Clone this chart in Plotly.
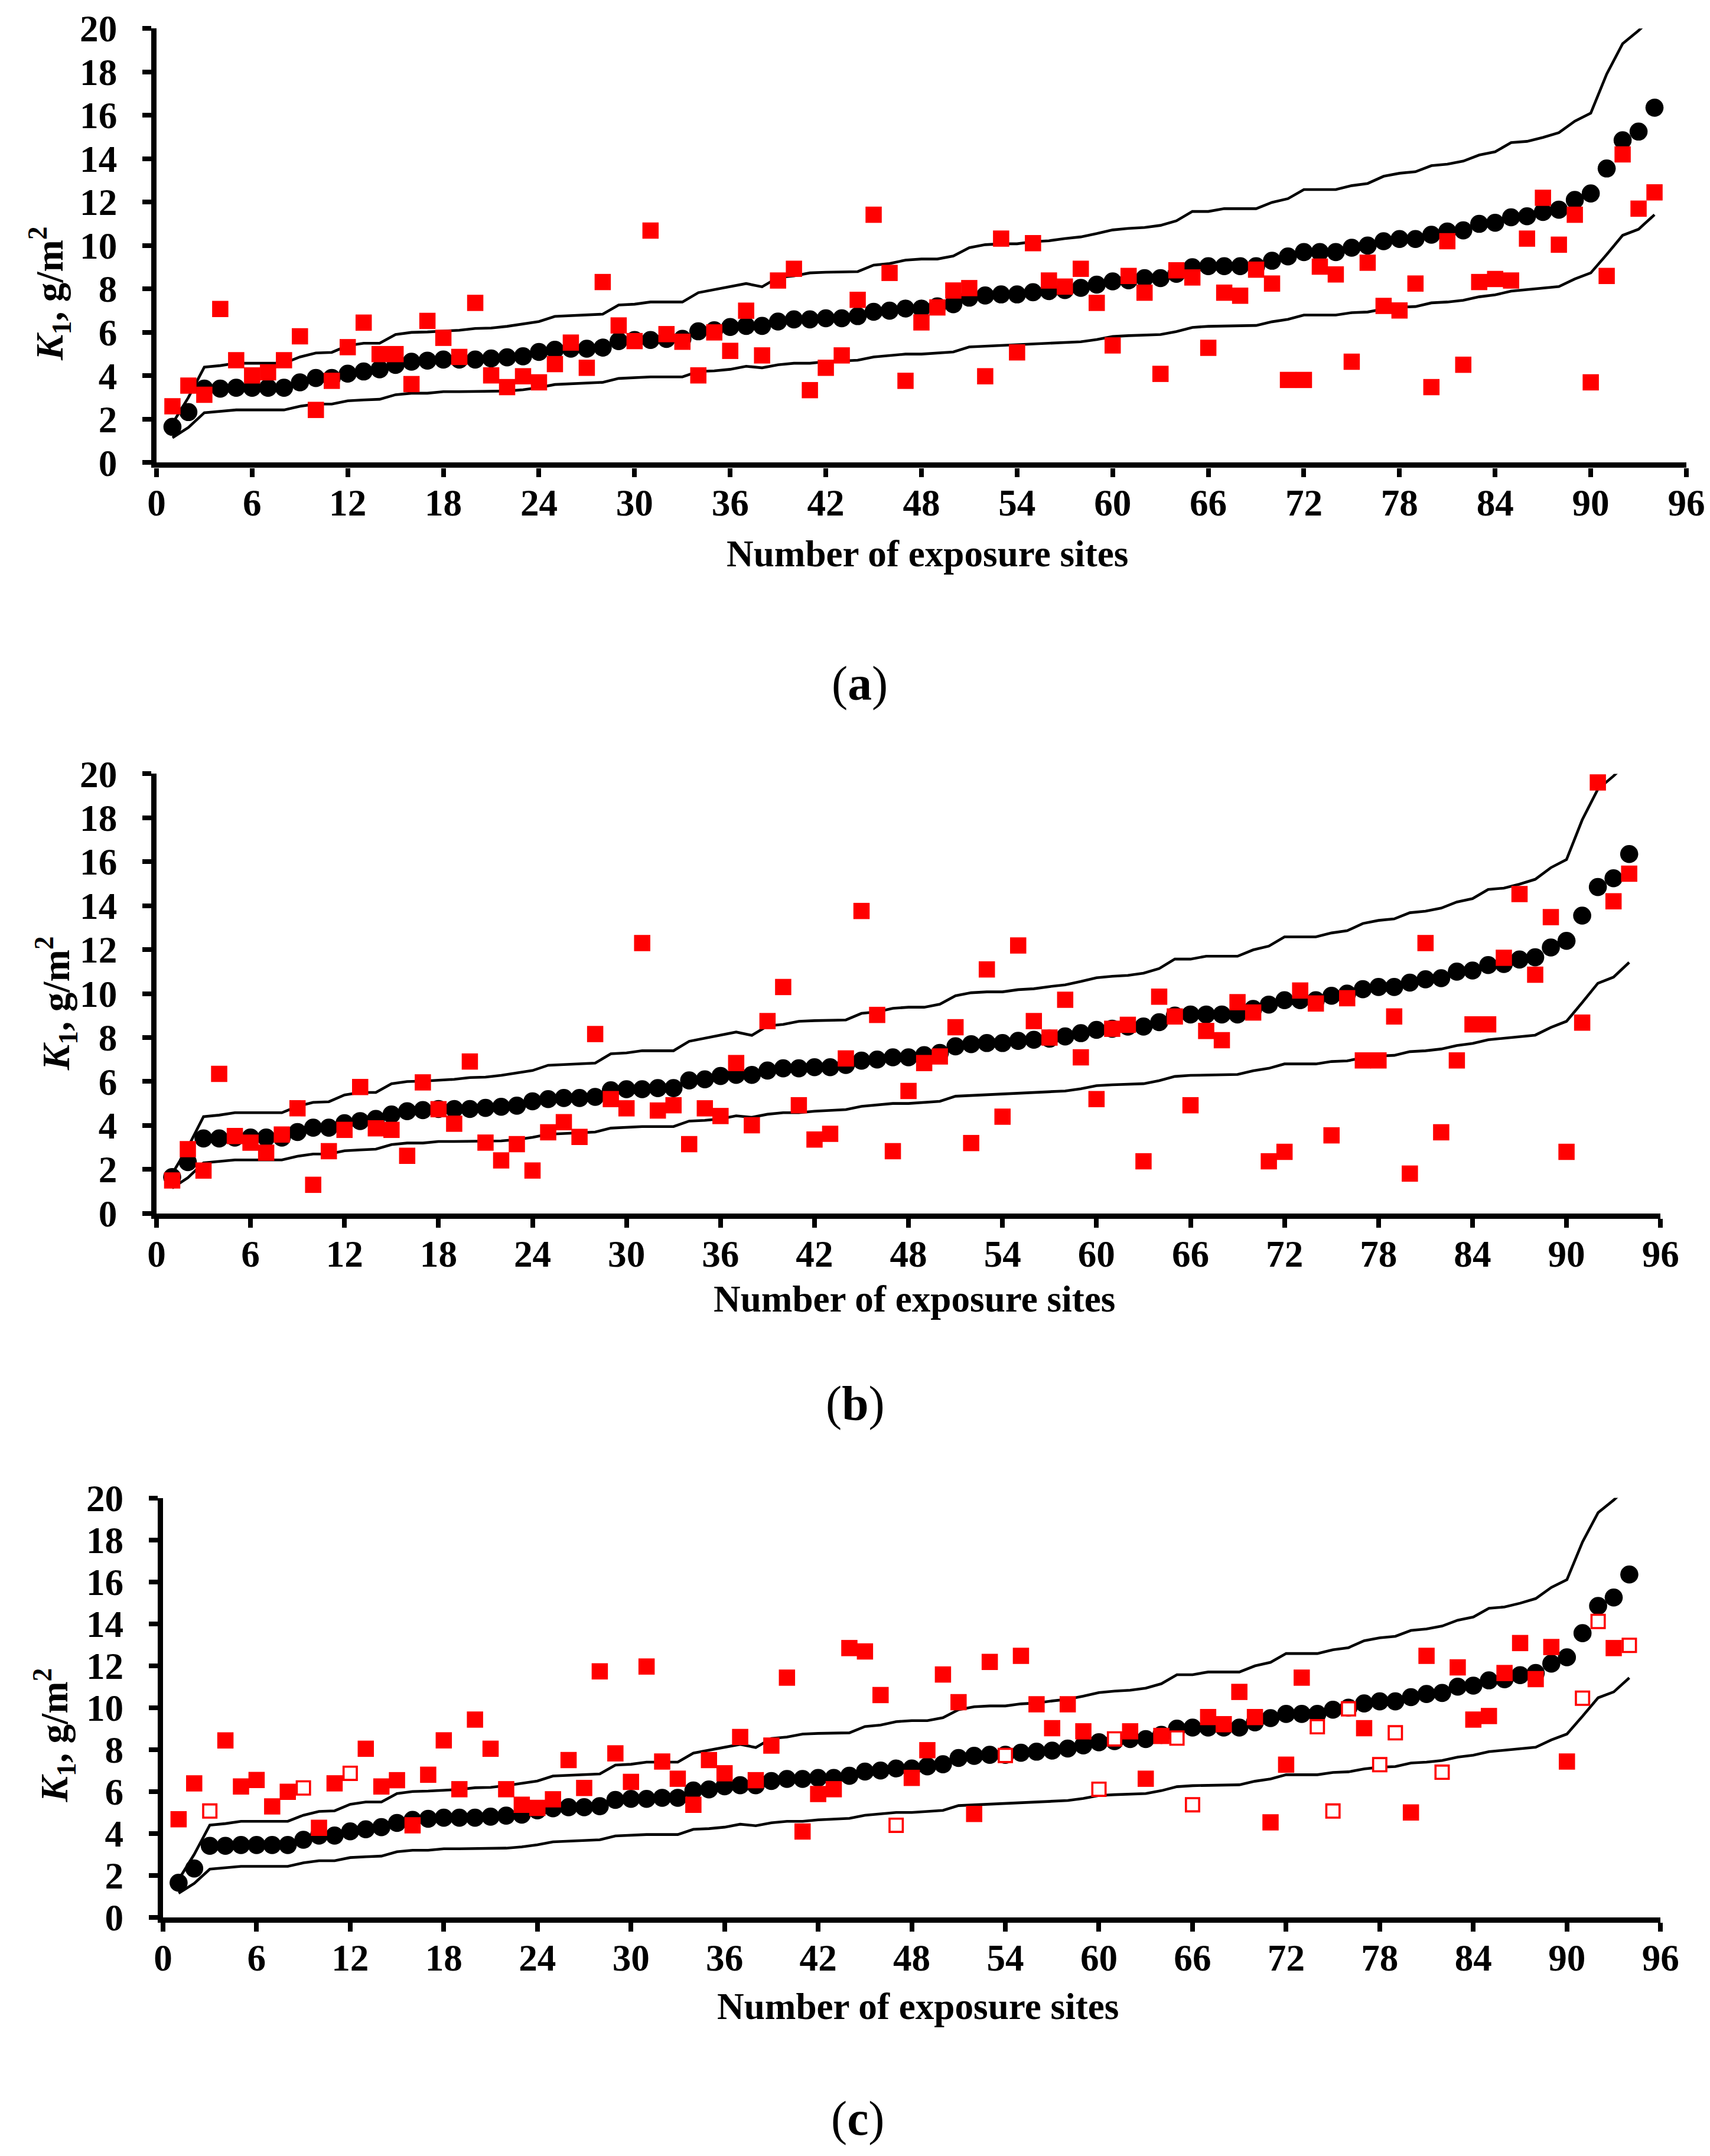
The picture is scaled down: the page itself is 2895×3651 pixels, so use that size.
import plotly.graph_objects as go

# Reference canvas size; figure sized to leave room for the page's body margin
W, H = 2895, 3651
OFF = 8
FW, FH = W - 2 * OFF, H - 2 * OFF
# empirical correction of the photographed page (offset / scale seen in the output)
CX, SX = 9.0, 0.984
CY, SY = 34.0, 0.979
K = 1.0 / ((SX + SY) / 2)

sites = list(range(1, 95))

mean_k = [1.65, 2.33, 3.41, 3.41, 3.45, 3.45, 3.45, 3.45, 3.7, 3.9, 3.9, 4.1, 4.2, 4.3, 4.5, 4.65, 4.7, 4.75, 4.75, 4.75,
          4.8, 4.85, 4.9, 5.1, 5.2, 5.25, 5.25, 5.3, 5.6, 5.65, 5.65, 5.7, 5.7, 6.05, 6.1, 6.25, 6.3, 6.3, 6.5, 6.6,
          6.6, 6.65, 6.65, 6.75, 6.95, 7.0, 7.1, 7.1, 7.2, 7.3, 7.6, 7.7, 7.75, 7.75, 7.85, 7.9, 7.95, 8.05, 8.2, 8.35,
          8.4, 8.5, 8.5, 8.7, 9.0, 9.05, 9.05, 9.05, 9.05, 9.3, 9.5, 9.7, 9.7, 9.7, 9.9, 10.0, 10.2, 10.3, 10.3, 10.5,
          10.65, 10.7, 11.0, 11.05, 11.3, 11.35, 11.55, 11.65, 12.1, 12.4, 13.55, 14.85, 15.25, 16.35]

upper_k = [1.8, 3.0, 4.4, 4.47, 4.58, 4.58, 4.58, 4.58, 4.87, 5.05, 5.08, 5.39, 5.5, 5.5, 5.9, 6.0, 6.02, 6.06, 6.1, 6.18,
           6.2, 6.28, 6.38, 6.5, 6.74, 6.77, 6.8, 6.84, 7.26, 7.3, 7.4, 7.4, 7.4, 7.83, 7.97, 8.1, 8.25, 8.1, 8.53, 8.6,
           8.74, 8.77, 8.77, 8.8, 9.1, 9.17, 9.33, 9.38, 9.38, 9.52, 9.9, 10.04, 10.08, 10.08, 10.18, 10.22, 10.32, 10.4, 10.55, 10.72,
           10.79, 10.83, 10.93, 11.14, 11.57, 11.57, 11.7, 11.7, 11.7, 11.99, 12.16, 12.58, 12.58, 12.58, 12.76, 12.86, 13.19, 13.33, 13.4, 13.68,
           13.75, 13.89, 14.17, 14.32, 14.74, 14.8, 14.98, 15.2, 15.73, 16.1, 17.9, 19.3, 19.9, 20.6]

lower_k = [1.15, 1.62, 2.3, 2.36, 2.43, 2.43, 2.43, 2.43, 2.6, 2.7, 2.7, 2.85, 2.89, 2.92, 3.13, 3.2, 3.2, 3.27, 3.27, 3.27,
           3.27, 3.3, 3.36, 3.46, 3.6, 3.64, 3.67, 3.7, 3.88, 3.92, 3.95, 3.95, 3.95, 4.2, 4.23, 4.3, 4.44, 4.37, 4.51, 4.58,
           4.58, 4.65, 4.68, 4.72, 4.87, 4.94, 5.0, 5.0, 5.05, 5.1, 5.33, 5.36, 5.39, 5.43, 5.47, 5.5, 5.53, 5.57, 5.67, 5.81,
           5.85, 5.88, 5.9, 6.04, 6.23, 6.28, 6.3, 6.3, 6.32, 6.49, 6.6, 6.8, 6.8, 6.8, 6.91, 6.94, 7.08, 7.16, 7.19, 7.36,
           7.4, 7.48, 7.64, 7.73, 7.9, 7.97, 8.04, 8.11, 8.46, 8.74, 9.59, 10.47, 10.75, 11.42]

obs_a = [2.6, 3.55, 3.13, 7.08, 4.72, 4.02, 4.16, 4.72, 5.82, 2.43, 3.77, 5.32, 6.45, 5.0, 5.0, 3.62, 6.53, 5.75, 4.87, 7.36,
         4.02, 3.48, 3.98, 3.7, 4.54, 5.53, 4.37, 8.32, 6.32, 5.6, 10.69, 5.92, 5.57, 4.02, 6.0, 5.15, 7.0, 4.94, 8.39, 8.93,
         3.34, 4.37, 4.94, 7.5, 11.42, 8.74, 3.77, 6.46, 7.15, 7.93, 8.04, 3.98, 10.32, 5.08, 10.11, 8.39, 8.11, 8.93, 7.36, 5.4,
         8.6, 7.83, 4.09, 8.86, 8.53, 5.29, 7.83, 7.69, 8.89, 8.25, 3.81, 3.81, 9.03, 8.67, 4.65, 9.21, 7.22, 7.01, 8.25, 3.48,
         10.2, 4.51, 8.32, 8.46, 8.39, 10.32, 12.2, 10.04, 11.42, 3.7, 8.6, 14.2, 11.7, 12.45]

obs_b = [1.5, 2.92, 1.95, 6.35, 3.52, 3.22, 2.76, 3.59, 4.78, 1.3, 2.83, 3.8, 5.75, 3.87, 3.8, 2.62, 5.96, 4.74, 4.08, 6.91,
         3.22, 2.41, 3.15, 1.95, 3.69, 4.15, 3.48, 8.16, 5.2, 4.78, 12.3, 4.68, 4.92, 3.15, 4.78, 4.43, 6.84, 4.01, 8.75, 10.3,
         4.92, 3.36, 3.62, 7.05, 13.76, 9.03, 2.83, 5.57, 6.84, 7.14, 8.47, 3.2, 11.1, 4.4, 12.19, 8.75, 8.0, 9.72, 7.1, 5.2,
         8.4, 8.58, 2.37, 9.86, 8.96, 4.92, 8.3, 7.88, 9.61, 9.14, 2.37, 2.8, 10.14, 9.55, 3.55, 9.79, 6.96, 6.96, 8.96, 1.81,
         12.3, 3.69, 6.96, 8.6, 8.6, 11.63, 14.53, 10.86, 13.48, 2.8, 8.68, 19.61, 14.2, 15.46]

c_filled_x = [1, 2, 4, 5, 6, 7, 8, 10, 11, 13, 14, 15, 16, 17, 18, 19, 20, 21, 22, 23, 24, 25, 26, 27, 28, 29, 30, 31, 32,
              33, 34, 35, 36, 37, 38, 39, 40, 41, 42, 43, 44, 45, 46, 48, 49, 50, 51, 52, 53, 55, 56, 57, 58, 59, 62, 63,
              64, 67, 68, 69, 70, 71, 72, 73, 77, 80, 81, 83, 84, 85, 86, 87, 88, 89, 90, 93]
c_filled_y = [4.68, 6.39, 8.44, 6.24, 6.55, 5.29, 5.99, 4.27, 6.39, 8.04, 6.24, 6.54, 4.39, 6.8, 8.44, 6.11, 9.43, 8.04, 6.11,
              5.37, 5.22, 5.63, 7.5, 6.17, 11.73, 7.82, 6.46, 11.96, 7.43, 6.61, 5.37, 7.5, 6.87, 8.6, 6.54, 8.19, 11.43,
              4.09, 5.88, 6.11, 12.84, 12.68, 10.6, 6.65, 7.97, 11.58, 10.26, 4.93, 12.18, 12.47, 10.16, 9.02, 10.16, 8.87,
              8.87, 6.61, 8.65, 9.55, 9.21, 10.75, 9.55, 4.53, 7.28, 11.43, 9.02, 5.0, 12.47, 11.92, 9.43, 9.6, 11.65, 13.08,
              11.36, 12.89, 7.43, 12.84]
c_hollow_x = [3, 9, 12, 47, 54, 60, 61, 65, 66, 74, 75, 76, 78, 79, 82, 91, 92, 94]
c_hollow_y = [5.07, 6.17, 6.87, 4.39, 7.72, 6.11, 8.51, 8.55, 5.37, 9.09, 5.07, 9.94, 7.28, 8.8, 6.92, 10.45, 14.11, 12.97]

x_ticks = list(range(0, 97, 6))
y_ticks = list(range(0, 21, 2))
panel_labels = ["a", "b", "c"]
x_title = "Number of exposure sites"
y_title = "<b><i>K</i><sub>1</sub>, g/m<sup>2</sup></b>"

FONT = "Liberation Serif"
RED = "#FF0000"

# panel geometry in reference pixels: (x0, x1, y_top, y_bottom)
panels = [(258, 2850, 48, 782), (258, 2806, 1308, 2051), (269, 2806, 2532, 3241)]
ytitle_pos = [(77, 496), (88, 1696), (85, 2933)]
label_pos = [(1449, 1155), (1442, 2372), (1446, 3581)]
xtitle_y = [936, 2196, 3392]


def clamp(v):
    return max(0.0, min(1.0, v))


def px(x):
    return clamp(((x - CX) / SX - OFF) / FW)


def py(y):
    return clamp(1 - ((y - CY) / SY - OFF) / FH)


def fs(v):
    return round(v * K, 1)


fig = go.Figure()
layout = dict(width=FW, height=FH, margin=dict(l=0, r=0, t=0, b=0),
              paper_bgcolor="white", plot_bgcolor="white", showlegend=False,
              font=dict(family=FONT, color="black"))
annotations = []

obs_sets = [obs_a, obs_b, None]
for i, (x0, x1, yt, yb) in enumerate(panels):
    n = "" if i == 0 else str(i + 1)
    xa, ya = "x" + n, "y" + n
    line_style = dict(color="black", width=fs(4.5))
    fig.add_trace(go.Scatter(x=sites, y=upper_k, mode="lines", line=line_style, xaxis=xa, yaxis=ya))
    fig.add_trace(go.Scatter(x=sites, y=lower_k, mode="lines", line=line_style, xaxis=xa, yaxis=ya))
    fig.add_trace(go.Scatter(x=sites, y=mean_k, mode="markers", xaxis=xa, yaxis=ya,
                             marker=dict(symbol="circle", size=fs(30), color="black")))
    if obs_sets[i] is not None:
        fig.add_trace(go.Scatter(x=sites, y=obs_sets[i], mode="markers", xaxis=xa, yaxis=ya,
                                 marker=dict(symbol="square", size=fs(27), color=RED, line=dict(width=0))))
    else:
        fig.add_trace(go.Scatter(x=c_filled_x, y=c_filled_y, mode="markers", xaxis=xa, yaxis=ya,
                                 marker=dict(symbol="square", size=fs(27), color=RED, line=dict(width=0))))
        fig.add_trace(go.Scatter(x=c_hollow_x, y=c_hollow_y, mode="markers", xaxis=xa, yaxis=ya,
                                 marker=dict(symbol="square", size=fs(22), color="white",
                                             line=dict(width=fs(3.5), color=RED))))

    ax_common = dict(showgrid=False, zeroline=False, showline=True, linewidth=fs(9), linecolor="black",
                     ticks="outside", ticklen=round(fs(15)), tickwidth=fs(8), tickcolor="black",
                     tickfont=dict(family=FONT, size=fs(62), color="black", weight="bold"), fixedrange=True)
    layout["xaxis" + n] = dict(ax_common, domain=[px(x0), px(x1)], range=[0, 96], tickvals=x_ticks,
                               anchor=ya, ticklabelstandoff=-10)
    layout["yaxis" + n] = dict(ax_common, domain=[py(yb), py(yt)], range=[0, 20], tickvals=y_ticks,
                               anchor=xa, ticklabelstandoff=30)

    # x-axis title
    annotations.append(dict(x=px((x0 + x1) / 2 + 10), y=py(xtitle_y[i]), xref="paper", yref="paper",
                            text="<b>" + x_title + "</b>", showarrow=False, xanchor="center", yanchor="middle",
                            font=dict(family=FONT, size=fs(62), color="black")))
    # y-axis title
    tx, ty = ytitle_pos[i]
    annotations.append(dict(x=px(tx), y=py(ty), xref="paper", yref="paper", text=y_title, textangle=-90,
                            showarrow=False, xanchor="center", yanchor="middle",
                            font=dict(family=FONT, size=fs(64), color="black")))
    # panel label
    lx, ly = label_pos[i]
    annotations.append(dict(x=px(lx), y=py(ly), xref="paper", yref="paper",
                            text="(<b>" + panel_labels[i] + "</b>)", showarrow=False,
                            xanchor="center", yanchor="middle",
                            font=dict(family=FONT, size=fs(80), color="black")))

layout["annotations"] = annotations
fig.update_layout(**layout)
fig.write_html("out.html")
